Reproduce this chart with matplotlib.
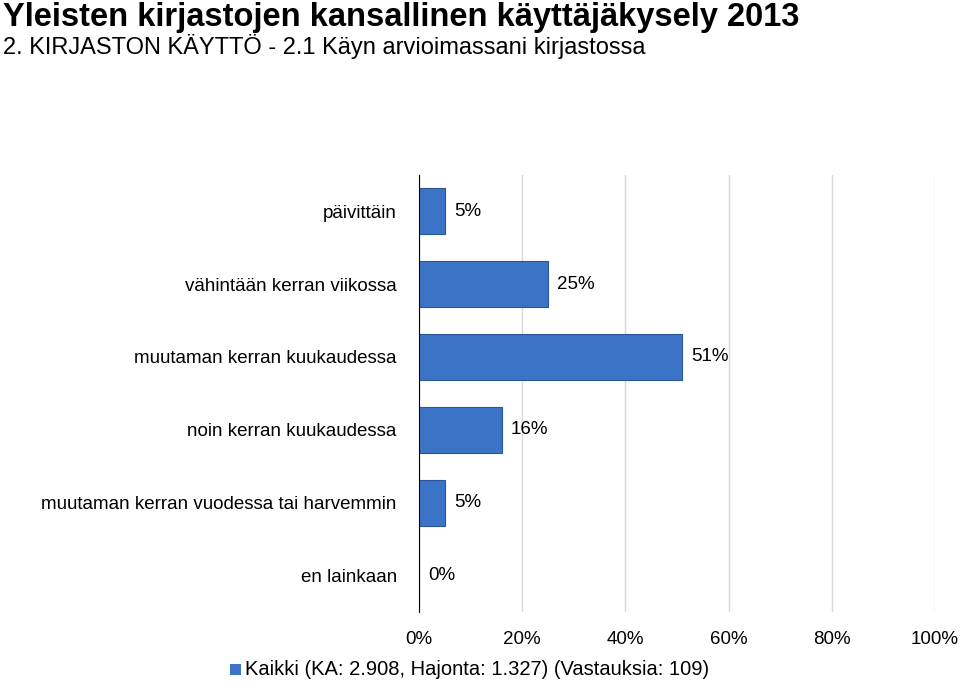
import matplotlib
matplotlib.use("Agg")
import matplotlib.pyplot as plt
from matplotlib.patches import Rectangle

categories = ["päivittäin", "vähintään kerran viikossa", "muutaman kerran kuukaudessa",
              "noin kerran kuukaudessa", "muutaman kerran vuodessa tai harvemmin", "en lainkaan"]
values = [5, 25, 51, 16, 5, 0]
xticks = [0, 20, 40, 60, 80, 100]
legend_label = "Kaikki (KA: 2.908, Hajonta: 1.327) (Vastauksia: 109)"

plt.rcParams["font.family"] = "Liberation Sans"
fig = plt.figure(figsize=(9.6, 6.83), dpi=100)
ax = fig.add_axes([0.4365, 0.104, 0.5375, 0.640])
y = list(range(len(categories)))
ax.barh(y, values, height=0.63, color="#3b74c6", edgecolor="#2a5597", linewidth=0.8)
ax.set_ylim(len(categories) - 0.5, -0.5)
ax.set_xlim(0, 100)
ax.set_yticks(y)
ax.set_yticklabels(categories, fontsize=13.5)
ax.set_xticks(xticks)
ax.set_xticklabels([f"{t}%" for t in xticks], fontsize=13.5)
ax.tick_params(length=0, pad=14)
ax.tick_params(axis="y", pad=16)
for s in ["top", "right", "bottom"]:
    ax.spines[s].set_visible(False)
ax.spines["left"].set_color("black")
ax.grid(axis="x", color="#d9d9d9", linewidth=1)
ax.set_axisbelow(True)
for yi, v in zip(y, values):
    ax.text(v + 1.8, yi, f"{v}%", va="center", ha="left", fontsize=13.5)

fig.text(0.003, 0.975, "Yleisten kirjastojen kansallinen käyttäjäkysely 2013",
         fontsize=23.5, fontweight="bold", va="center")
fig.text(0.003, 0.932, "2. KIRJASTON KÄYTTÖ - 2.1 Käyn arvioimassani kirjastossa",
         fontsize=17, va="center")
fig.patches.append(Rectangle((0.240, 0.012), 0.011, 0.016, transform=fig.transFigure,
                             facecolor="#3b74c6", edgecolor="none"))
fig.text(0.255, 0.020, legend_label, fontsize=14.5, va="center")
fig.savefig("out.png", dpi=100)
